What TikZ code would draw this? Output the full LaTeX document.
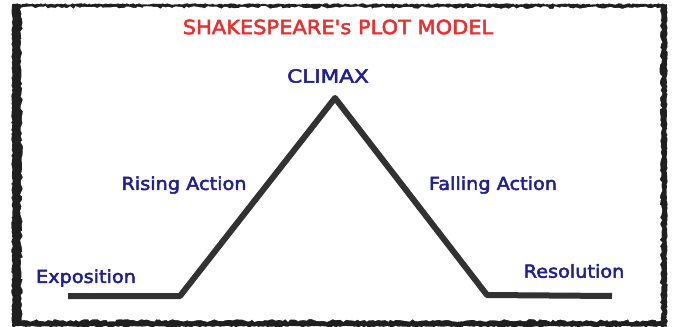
\documentclass[tikz,border=0pt]{standalone}
\usepackage{fontspec}
\setmainfont{DejaVu Sans}
\newfontfamily\comicish[FakeBold=2.6,FakeStretch=1.07]{DejaVu Sans}
\usetikzlibrary{decorations.pathmorphing}
\definecolor{titlered}{RGB}{232,48,48}
\definecolor{labelblue}{RGB}{32,32,145}
\definecolor{plotgray}{RGB}{50,50,50}
\begin{document}
\begin{tikzpicture}[x=1pt,y=-1pt,
  titlestyle/.style={text=titlered,font=\comicish\fontsize{19.6}{22}\selectfont,inner sep=0pt},
  lbl/.style={text=labelblue,font=\comicish\fontsize{18}{20}\selectfont,inner sep=0pt},
  plotline/.style={draw=plotgray,line width=6pt,line join=round}]
\pgfmathsetseed{11}
\useasboundingbox (0,0) rectangle (673,327);
\fill[white] (0,0) rectangle (673,327);
\fill[black!88,decorate,decoration={random steps,segment length=2pt,amplitude=0.7pt}] (12,4) rectangle (667,326.5);
\fill[white,decorate,decoration={random steps,segment length=3pt,amplitude=1.4pt}] (21.5,7.5) rectangle (661,320.5);
% labels
\node[titlestyle] (title) at (338,27) {SHAKESPEARE\symbol{39}s PLOT MODEL};
\node[lbl] (climax) at (328,76) {\scalebox{1.12}[1]{CLIMAX}};
\node[lbl] (rising) at (184,185) {Rising Action};
\node[lbl] (falling) at (493,185) {Falling Action};
\node[lbl] (expo) at (86,278) {Exposition};
\node[lbl] (reso) at (574,271) {Resolution};
% plot line
\coordinate (p0) at (68,296);
\coordinate (p1) at (180,296);
\coordinate (p2) at (335,98);
\coordinate (p3) at (487,295);
\coordinate (p4) at (612,296);
\draw[plotline] (p0) -- (p1) -- (p2) -- (p3) -- (p4);
\end{tikzpicture}
\end{document}
